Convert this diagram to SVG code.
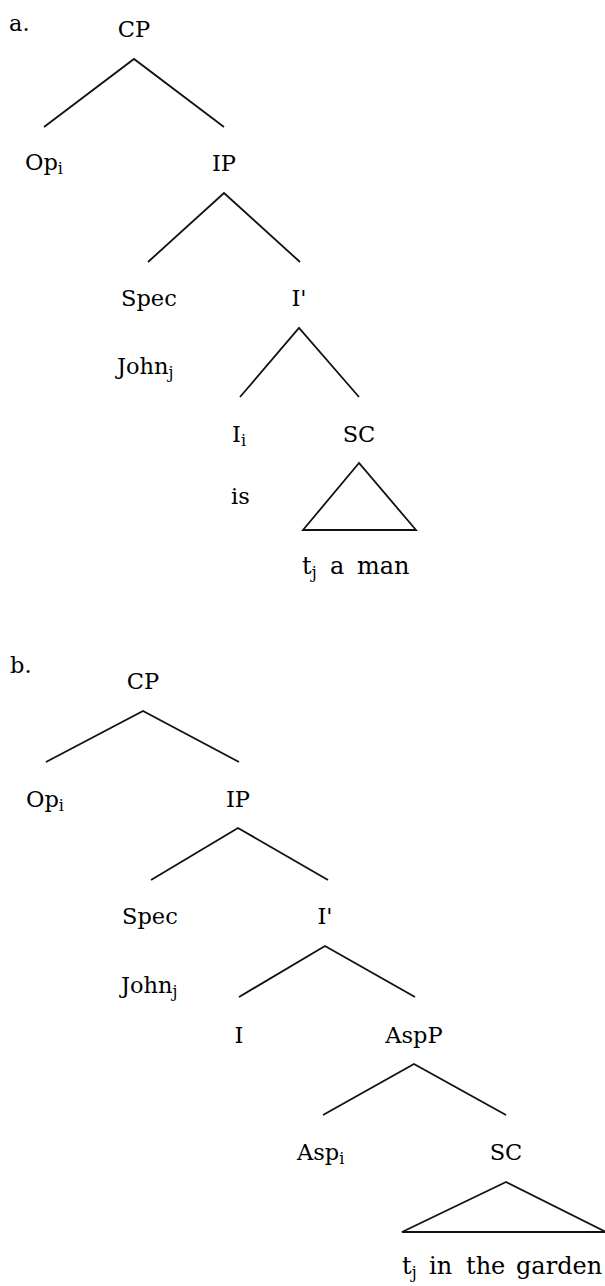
<svg xmlns="http://www.w3.org/2000/svg" width="605" height="1286" viewBox="0 0 605 1286">
<style>
text{font-family:"DejaVu Serif","Liberation Serif",serif;font-size:22.5px;fill:#000}
.m{text-anchor:middle}
.s{font-size:16px}
.t{font-size:24px}
.e{fill:none;stroke:#111;stroke-width:1.8;stroke-linejoin:miter}
</style>
<rect width="605" height="1286" fill="#fff"/>
<g id="connectors">
<polyline class="e" points="44,127 134,59 224,127"/>
<polyline class="e" points="148,262 224,193 300,262"/>
<polyline class="e" points="240,397 299,328 359,397"/>
<polygon class="e" points="359,463 303,530 416,530"/>
<polyline class="e" points="46,762 143,711 239,762"/>
<polyline class="e" points="151,880 238,828 328,880"/>
<polyline class="e" points="239,997 325,946 415,997"/>
<polyline class="e" points="323,1115 414,1064 506,1115"/>
<polygon class="e" points="506,1182 402,1232 606,1232"/>
</g>
<g id="label-a"><text x="9" y="31">a.</text></g>
<g id="a-CP"><text class="m" x="134" y="37">CP</text></g>
<g id="a-Op"><text x="25" y="170">Op<tspan class="s" dy="4">i</tspan></text></g>
<g id="a-IP"><text class="m" x="224" y="171">IP</text></g>
<g id="a-Spec"><text x="121" y="306">Spec</text><text x="117" y="374">John<tspan class="s" dy="4">j</tspan></text></g>
<g id="a-Ibar"><text class="m" x="299" y="306">I'</text></g>
<g id="a-I"><text x="232" y="442">I<tspan class="s" dy="4">i</tspan></text><text x="231" y="504">is</text></g>
<g id="a-SC"><text class="m" x="359" y="442">SC</text>
<text class="t" x="302" y="574">t<tspan class="s" dy="4">j</tspan></text><text class="t" x="330" y="574">a</text><text class="t" x="357" y="574">man</text></g>
<g id="label-b"><text x="10" y="673">b.</text></g>
<g id="b-CP"><text class="m" x="143" y="689">CP</text></g>
<g id="b-Op"><text x="26" y="807">Op<tspan class="s" dy="4">i</tspan></text></g>
<g id="b-IP"><text class="m" x="238" y="807">IP</text></g>
<g id="b-Spec"><text x="122" y="924">Spec</text><text x="121" y="993">John<tspan class="s" dy="4">j</tspan></text></g>
<g id="b-Ibar"><text class="m" x="325" y="924">I'</text></g>
<g id="b-I"><text class="m" x="239" y="1043">I</text></g>
<g id="b-AspP"><text class="m" x="414" y="1043">AspP</text></g>
<g id="b-Asp"><text x="297" y="1160">Asp<tspan class="s" dy="4">i</tspan></text></g>
<g id="b-SC"><text class="m" x="506" y="1160">SC</text>
<text class="t" x="402" y="1274">t<tspan class="s" dy="4">j</tspan></text><text class="t" x="429" y="1274">in</text><text class="t" x="466" y="1274">the</text><text class="t" x="516" y="1274">garden</text></g>
</svg>
